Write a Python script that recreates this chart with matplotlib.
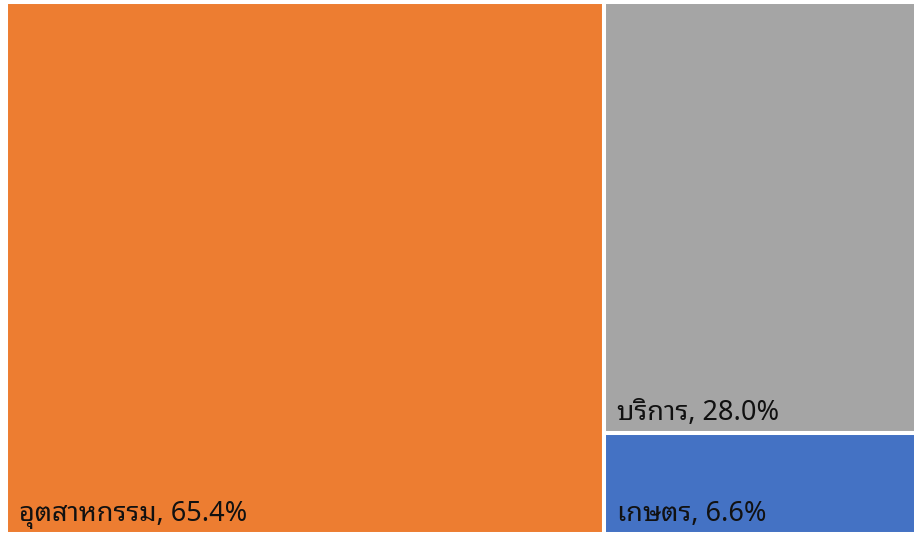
import matplotlib
matplotlib.use('Agg')
import matplotlib.pyplot as plt

# treemap data
labels = ['อุตสาหกรรม', 'บริการ', 'เกษตร']
shares = [65.4, 28.0, 6.6]
colors = ['#ED7D31', '#A5A5A5', '#4472C4']

plt.rcParams['font.family'] = ['Noto Sans Thai Looped', 'Noto Sans', 'DejaVu Sans']

fig = plt.figure(figsize=(9.14, 5.34), dpi=100)
fig.set_facecolor('white')
ax = fig.add_axes([6 / 914, 0 / 534, 914 / 914, 532 / 534])

total = sum(shares)
W, H = 1.0, 1.0
# first tile takes a full-height slice, the rest stack in the remaining column
w0 = shares[0] / total * W
rest = sum(shares[1:])
h1 = shares[1] / rest * H
h2 = shares[2] / rest * H
tiles = [
    (0, w0, 0, H),
    (w0, W - w0, h2, h1),
    (w0, W - w0, 0, h2),
]
for (x, w, y, h), c, lab, s in zip(tiles, colors, labels, shares):
    ax.bar(x, h, width=w, bottom=y, align='edge', color=c,
           edgecolor='white', linewidth=2.9)
    ax.annotate('%s, %.1f%%' % (lab, s), xy=(x, y), xytext=(13, 13),
                textcoords='offset pixels', fontsize=19.5, color='#111111',
                ha='left', va='baseline')

ax.set_xlim(0, W)
ax.set_ylim(0, H)
ax.axis('off')
fig.savefig('out.png', dpi=100)
